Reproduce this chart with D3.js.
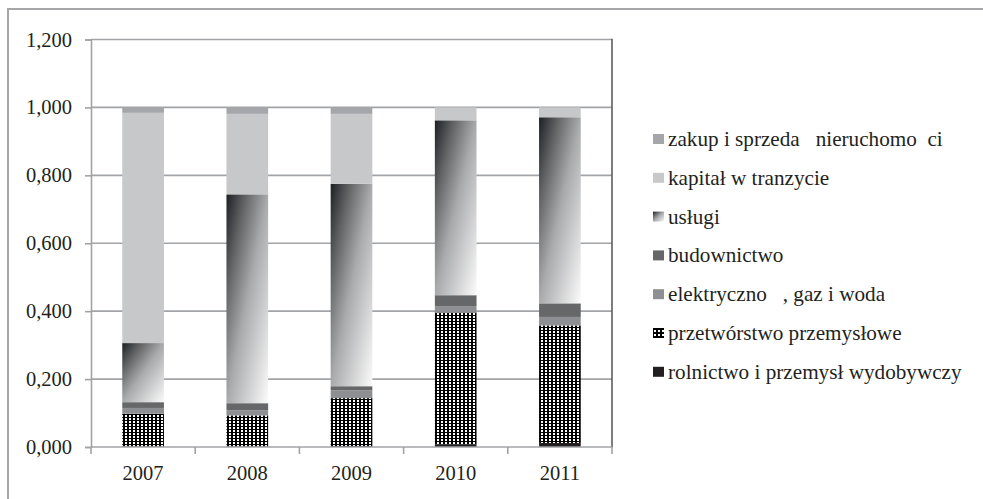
<!DOCTYPE html>
<html>
<head>
<meta charset="utf-8">
<script src="https://cdn.jsdelivr.net/npm/d3@7"></script>
<style>
  html, body { margin: 0; padding: 0; background: #fff; }
  svg { display: block; }
  text { font-family: "Liberation Serif", "Times New Roman", serif; fill: #231f20; }
</style>
</head>
<body>
<svg id="chart" width="983" height="499"></svg>
<script>
// ---- data ----
const years = ["2007", "2008", "2009", "2010", "2011"];
const seriesNames = [
  "rolnictwo i przemysł wydobywczy",
  "przetwórstwo przemysłowe",
  "elektryczno   , gaz i woda",
  "budownictwo",
  "usługi",
  "kapitał w tranzycie",
  "zakup i sprzeda   nieruchomo  ci"
];
const rolnictwo     = [0.002, 0.002, 0.003, 0.008, 0.012];
const przetworstwo  = [0.096, 0.091, 0.141, 0.388, 0.346];
const elektrycznosc = [0.017, 0.015, 0.023, 0.019, 0.025];
const budownictwo   = [0.017, 0.021, 0.012, 0.032, 0.040];
const uslugi        = [0.174, 0.615, 0.596, 0.515, 0.548];
const kapital       = [0.678, 0.237, 0.206, 0.038, 0.029];
const zakup         = [0.016, 0.019, 0.019, 0.000, 0.000];
const yTicks = [0, 0.2, 0.4, 0.6, 0.8, 1.0, 1.2];

const seriesValues = [rolnictwo, przetworstwo, elektrycznosc, budownictwo, uslugi, kapital, zakup];
const keys = seriesNames.map((d, i) => "s" + i);
const table = years.map((yr, j) => {
  const row = { year: yr };
  seriesValues.forEach((arr, i) => { row[keys[i]] = arr[j]; });
  return row;
});

// ---- drawing ----
(function () {
const svg = d3.select("#chart");
const defs = svg.append("defs");

const grad = defs.append("linearGradient")
  .attr("id", "gradUslugi")
  .attr("x1", 0).attr("y1", 0).attr("x2", 1).attr("y2", 1);
grad.append("stop").attr("offset", "0").attr("stop-color", "#1d2023");
grad.append("stop").attr("offset", "0.22").attr("stop-color", "#5e6062");
grad.append("stop").attr("offset", "0.5").attr("stop-color", "#a9aaac");
grad.append("stop").attr("offset", "1").attr("stop-color", "#fbfbfb");

const pat = defs.append("pattern")
  .attr("id", "patDots")
  .attr("patternUnits", "userSpaceOnUse")
  .attr("width", 4).attr("height", 3);
pat.append("rect").attr("width", 4).attr("height", 3).attr("fill", "#000");
pat.append("rect").attr("x", 1).attr("y", 1).attr("width", 2).attr("height", 2).attr("fill", "#fff");

const lpat = defs.append("pattern")
  .attr("id", "patLegend")
  .attr("patternUnits", "userSpaceOnUse")
  .attr("width", 4).attr("height", 4);
lpat.append("rect").attr("width", 4).attr("height", 4).attr("fill", "#000");
lpat.append("rect").attr("x", 1).attr("y", 1).attr("width", 2).attr("height", 2).attr("fill", "#fff");

const fills = ["#231f20", "url(#patDots)", "#8e8f92", "#666768", "url(#gradUslugi)", "#c7c8ca", "#a5a6a9"];
const legendFills = ["#231f20", "url(#patLegend)", "#8e8f92", "#666768", "url(#gradUslugi)", "#c7c8ca", "#a5a6a9"];

// outer border
svg.append("rect")
  .attr("x", 8).attr("y", 9).attr("width", 990).attr("height", 500)
  .attr("fill", "none").attr("stroke", "#a6a6a8").attr("stroke-width", 2);

const pLeft = 91, pRight = 612, pTop = 39.5, pBottom = 447;
const x = d3.scaleBand().domain(years).range([pLeft, pRight]).paddingInner(0.6).paddingOuter(0.3);
const y = d3.scaleLinear().domain([0, 1.2]).range([pBottom, pTop]);

// gridlines
svg.append("g").selectAll("line").data(yTicks.slice(1)).join("line")
  .attr("x1", pLeft).attr("x2", pRight)
  .attr("y1", d => y(d)).attr("y2", d => y(d))
  .attr("stroke", "#a2a3a6").attr("stroke-width", 1.6);

// right border of plot (darker)
svg.append("line")
  .attr("x1", pRight).attr("x2", pRight).attr("y1", pTop - 0.8).attr("y2", pBottom)
  .attr("stroke", "#5d5d5f").attr("stroke-width", 1.6);

// stacked bars
const stack = d3.stack().keys(keys);
const stacked = stack(table);
svg.append("g").selectAll("g").data(stacked).join("g")
  .attr("fill", (d, i) => fills[i])
  .selectAll("rect").data(d => d).join("rect")
  .attr("x", d => x(d.data.year))
  .attr("width", x.bandwidth())
  .attr("y", d => y(d[1]))
  .attr("height", d => Math.max(0, y(d[0]) - y(d[1])));

// y axis
const fmt = v => d3.format(".3f")(v).replace(".", ",");
const yAxis = svg.append("g")
  .attr("transform", `translate(${pLeft},0)`)
  .call(d3.axisLeft(y).tickValues(yTicks).tickFormat(fmt).tickSize(6).tickPadding(13));
yAxis.select(".domain").attr("stroke", "#a2a3a6").attr("stroke-width", 1.6);
yAxis.selectAll(".tick line").attr("stroke", "#a2a3a6").attr("stroke-width", 1.6);
yAxis.selectAll(".tick text")
  .style("font-family", '"Liberation Serif", "Times New Roman", serif')
  .style("font-size", "20.5px").attr("fill", "#231f20");

// x axis
svg.append("line")
  .attr("x1", pLeft).attr("x2", pRight).attr("y1", pBottom).attr("y2", pBottom)
  .attr("stroke", "#a2a3a6").attr("stroke-width", 1.6);
const step = x.step();
const gap = step - x.bandwidth();
const boundaries = [x(years[0]) - gap / 2].concat(
  years.map(yr => x(yr) + x.bandwidth() + gap / 2));
svg.append("g").selectAll("line").data(boundaries).join("line")
  .attr("x1", d => d).attr("x2", d => d)
  .attr("y1", pBottom).attr("y2", pBottom + 7)
  .attr("stroke", "#a2a3a6").attr("stroke-width", 1.6);
svg.append("g").selectAll("text").data(years).join("text")
  .attr("x", d => x(d) + x.bandwidth() / 2)
  .attr("y", 480)
  .attr("text-anchor", "middle")
  .style("font-size", "20.5px")
  .text(d => d);

// legend
const legendOrder = d3.range(seriesNames.length).reverse();
const lg = svg.append("g").selectAll("g").data(legendOrder).join("g")
  .attr("transform", (d, i) => `translate(653, ${139 + i * 38.8})`);
lg.append("rect")
  .attr("x", 0).attr("y", -5).attr("width", 11).attr("height", 10)
  .attr("fill", d => legendFills[d]);
lg.append("text")
  .attr("x", 15).attr("y", 7)
  .style("font-size", "21.2px")
  .style("white-space", "pre")
  .text(d => seriesNames[d]);
})();
</script>
</body>
</html>
